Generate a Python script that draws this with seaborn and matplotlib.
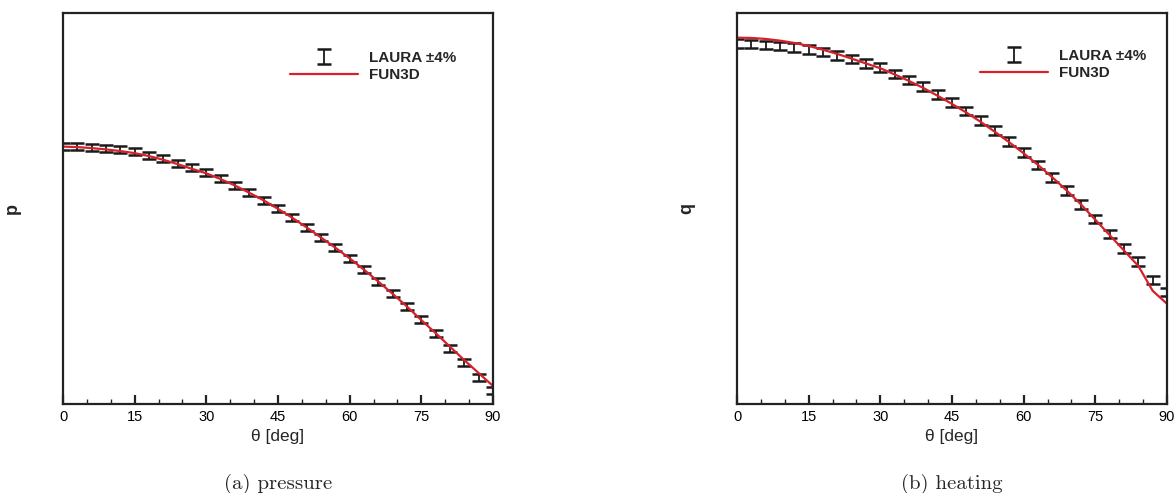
import numpy as np
import matplotlib
matplotlib.use("Agg")
import matplotlib.pyplot as plt
from matplotlib.ticker import MultipleLocator, NullLocator
import seaborn as sns

# surface angle [deg]
theta = [0, 3, 6, 9, 12, 15, 18, 21, 24, 27, 30, 33, 36, 39, 42, 45,
         48, 51, 54, 57, 60, 63, 66, 69, 72, 75, 78, 81, 84, 87, 90]

# normalized pressure
laura_p = [1.006, 0.998, 0.991, 0.980, 0.964, 0.942, 0.907, 0.870, 0.828, 0.784,
           0.741, 0.695, 0.643, 0.592, 0.542, 0.493, 0.444, 0.398, 0.355, 0.316,
           0.278, 0.245, 0.214, 0.186, 0.160, 0.138, 0.118, 0.0994, 0.0847, 0.0713,
           0.0614]
fun3d_p = [1.000, 0.994, 0.983, 0.968, 0.950, 0.928, 0.897, 0.860, 0.818, 0.775,
           0.736, 0.689, 0.640, 0.589, 0.540, 0.490, 0.442, 0.396, 0.353, 0.314,
           0.278, 0.244, 0.213, 0.185, 0.160, 0.137, 0.118, 0.101, 0.0866, 0.0747,
           0.0644]

# normalized heating
laura_q = [0.9485, 0.9423, 0.9335, 0.9247, 0.9135, 0.8965, 0.8738, 0.8470, 0.8179,
           0.7854, 0.7535, 0.7099, 0.6709, 0.6298, 0.5861, 0.5435, 0.5007, 0.4569,
           0.4158, 0.3762, 0.3391, 0.3008, 0.2679, 0.2360, 0.2068, 0.1807, 0.1568,
           0.1370, 0.1208, 0.1016, 0.0907]
fun3d_q = [1.000, 0.9972, 0.9878, 0.9721, 0.9512, 0.9247, 0.8921, 0.8574, 0.8203,
           0.7838, 0.7491, 0.7066, 0.6646, 0.6220, 0.5776, 0.5350, 0.4930, 0.4518,
           0.4108, 0.3722, 0.3357, 0.3008, 0.2676, 0.2365, 0.2071, 0.1793, 0.1551,
           0.1341, 0.1159, 0.0917, 0.0811]

sns.set_style("white")
plt.rcParams["font.family"] = ["Liberation Sans", "DejaVu Sans"]

W, H = 1175, 493
fig = plt.figure(figsize=(W / 100, H / 100), dpi=100)
ax1 = fig.add_axes([63 / W, 1 - 404 / H, 430 / W, 391 / H])
ax2 = fig.add_axes([737 / W, 1 - 404 / H, 430 / W, 391 / H])


def panel(ax, laura, fun3d, ylab, ylim, caption, leg_x, leg_y):
    laura = np.array(laura)
    eb = ax.errorbar(theta, laura, yerr=0.04 * laura, fmt="none",
                     ecolor="#1a1a1a", elinewidth=1.3, capsize=4.8,
                     capthick=1.8, label="LAURA ±4%")
    sns.lineplot(x=theta, y=fun3d, ax=ax, color="#d8202a", lw=1.6,
                 label="FUN3D")
    ax.set_yscale("log")
    ax.set_ylim(*ylim)
    ax.set_xlim(0, 90)
    ax.yaxis.set_major_locator(NullLocator())
    ax.yaxis.set_minor_locator(NullLocator())
    ax.xaxis.set_major_locator(MultipleLocator(15))
    ax.xaxis.set_minor_locator(MultipleLocator(5))
    ax.tick_params(axis="x", which="major", direction="in", length=6.5,
                   width=1.6, labelsize=10.5, pad=4, colors="#222222",
                   labelcolor="black", bottom=True)
    ax.tick_params(axis="x", which="minor", direction="in", length=3.5,
                   width=1.0, colors="#222222", bottom=True)
    for s in ax.spines.values():
        s.set_linewidth(1.6)
        s.set_color("#222222")
    ax.set_xlabel("θ [deg]", fontsize=12.5, labelpad=4)
    ax.set_ylabel(ylab, fontsize=13, fontweight="bold")
    ax.yaxis.set_label_coords(-0.098, 0.5)
    ax.legend([eb, ax.lines[-1]], ["LAURA ±4%", "FUN3D"], loc="upper left",
              bbox_to_anchor=(leg_x, leg_y), frameon=False,
              prop={"weight": "bold", "size": 11}, handlelength=4.45,
              handletextpad=0.75, labelspacing=0.2, borderpad=0,
              borderaxespad=0)
    pos = ax.get_position()
    fig.text(pos.x0 + pos.width / 2, 1 - 484 / H, caption, ha="center",
             va="center", family="cmr10", fontsize=15)


panel(ax1, laura_p, fun3d_p, "p", (0.0524, 4.62), "(a) pressure", 0.528, 0.903)
panel(ax2, laura_q, fun3d_q, "q", (0.0315, 1.262), "(b) heating", 0.565, 0.908)

fig.savefig("out.png", dpi=100)
